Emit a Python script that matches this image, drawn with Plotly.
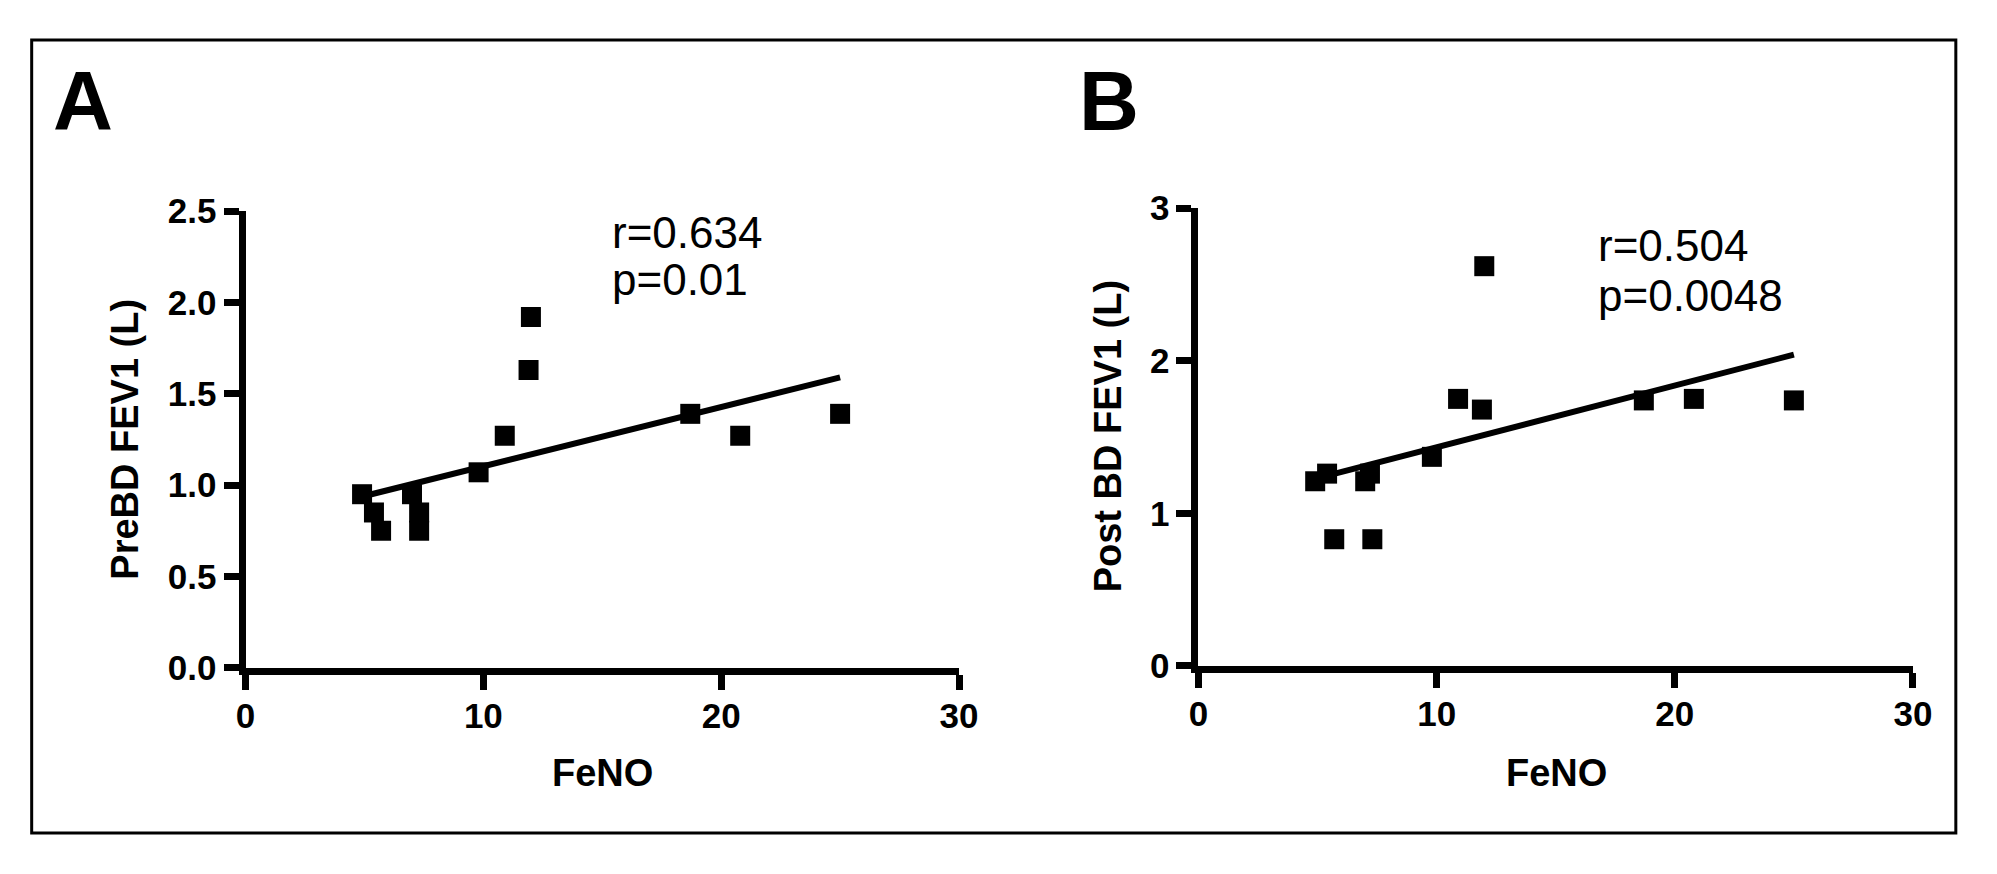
import plotly.graph_objects as go

W, H = 1997, 874

# ---- Data ----
feno_a = [4.9, 5.4, 5.7, 7.0, 7.3, 7.3, 9.8, 10.9, 11.9, 12.0, 18.7, 20.8, 25.0]
pre_fev1 = [0.95, 0.85, 0.75, 0.95, 0.85, 0.75, 1.07, 1.27, 1.63, 1.92, 1.39, 1.27, 1.39]
fit_x_a = [5.0, 25.0]
fit_y_a = [0.94, 1.59]

feno_b = [4.9, 5.4, 5.7, 7.0, 7.2, 7.3, 9.8, 10.9, 11.9, 12.0, 18.7, 20.8, 25.0]
post_fev1 = [1.21, 1.26, 0.83, 1.21, 1.26, 0.83, 1.37, 1.75, 1.68, 2.62, 1.74, 1.75, 1.74]
fit_x_b = [5.0, 25.0]
fit_y_b = [1.23, 2.04]

x_ticks = [0, 10, 20, 30]
y_ticks_a = [0.0, 0.5, 1.0, 1.5, 2.0, 2.5]
y_ticks_b = [0, 1, 2, 3]

stats_a = ["r=0.634", "p=0.01"]
stats_b = ["r=0.504", "p=0.0048"]

FONT = "Liberation Sans, Arial, Helvetica, sans-serif"

fig = go.Figure()

for xs, ys, fx, fy, ax in [
    (feno_a, pre_fev1, fit_x_a, fit_y_a, ""),
    (feno_b, post_fev1, fit_x_b, fit_y_b, "2"),
]:
    fig.add_trace(go.Scatter(x=fx, y=fy, mode="lines",
                             line=dict(color="black", width=6),
                             xaxis="x" + ax, yaxis="y" + ax, showlegend=False,
                             hoverinfo="skip"))
    fig.add_trace(go.Scatter(x=xs, y=ys, mode="markers",
                             marker=dict(symbol="square", size=20, color="black",
                                         line=dict(width=0)),
                             xaxis="x" + ax, yaxis="y" + ax, showlegend=False,
                             cliponaxis=False))

tickfont = dict(family=FONT, size=35, color="black", weight="bold")
axis_common = dict(showline=True, linecolor="black", linewidth=7,
                   ticks="outside", ticklen=15, tickwidth=7, tickcolor="black",
                   showgrid=False, zeroline=False, tickfont=tickfont,
                   fixedrange=True)

fig.update_layout(
    width=W, height=H,
    margin=dict(l=0, r=0, t=0, b=0),
    paper_bgcolor="white", plot_bgcolor="white",
    showlegend=False,
    xaxis=dict(domain=[239 / W, 963 / W], range=[0, 30], tickvals=x_ticks,
               anchor="y", ticklabelstandoff=-4, **axis_common),
    yaxis=dict(domain=[(H - 678) / H, (H - 200) / H], range=[0, 2.5],
               tickvals=y_ticks_a, ticktext=[f"{v:.1f}" for v in y_ticks_a],
               anchor="x", **axis_common),
    xaxis2=dict(domain=[1206 / W, 1931 / W], range=[0, 30], tickvals=x_ticks,
                anchor="y2", ticklabelstandoff=-4, **axis_common),
    yaxis2=dict(domain=[(H - 676) / H, (H - 197) / H], range=[0, 3],
                tickvals=y_ticks_b, ticktext=[str(v) for v in y_ticks_b],
                anchor="x2", **axis_common),
)

# Outer frame
fig.add_shape(type="rect", xref="paper", yref="paper",
              x0=22 / W, x1=1974.5 / W, y0=1 - 851 / H, y1=1 - 21 / H,
              line=dict(color="black", width=3), fillcolor="rgba(0,0,0,0)")


def ann(text, x, y, size, bold=False, angle=0, xanchor="center", yanchor="middle"):
    fig.add_annotation(text=text, x=x, y=y, xref="paper", yref="paper",
                       showarrow=False, textangle=angle, xanchor=xanchor,
                       yanchor=yanchor,
                       font=dict(family=FONT, size=size, color="black",
                                 weight="bold" if bold else "normal"))


# Panel letters
ann("A", 42 / W, 1 - 85 / H, 83, bold=True, xanchor="left")
ann("B", 1083 / W, 1 - 85 / H, 83, bold=True, xanchor="left")

# Axis titles
ann("FeNO", 601 / W, 1 - 788 / H, 38, bold=True)
ann("FeNO", 1569 / W, 1 - 788 / H, 38, bold=True)
ann("PreBD FEV1 (L)", 117 / W, 1 - 439 / H, 38, bold=True, angle=-90)
ann("Post BD FEV1 (L)", 1114 / W, 1 - 436 / H, 38, bold=True, angle=-90)

# Correlation stats
ann(stats_a[0], 609 / W, 1 - 222 / H, 44, xanchor="left")
ann(stats_a[1], 609 / W, 1 - 272 / H, 44, xanchor="left")
ann(stats_b[0], 1609 / W, 1 - 236 / H, 44, xanchor="left")
ann(stats_b[1], 1609 / W, 1 - 288 / H, 44, xanchor="left")

fig.write_html("out.html", config={"displayModeBar": False},
               post_script="document.body.style.margin='0';")
